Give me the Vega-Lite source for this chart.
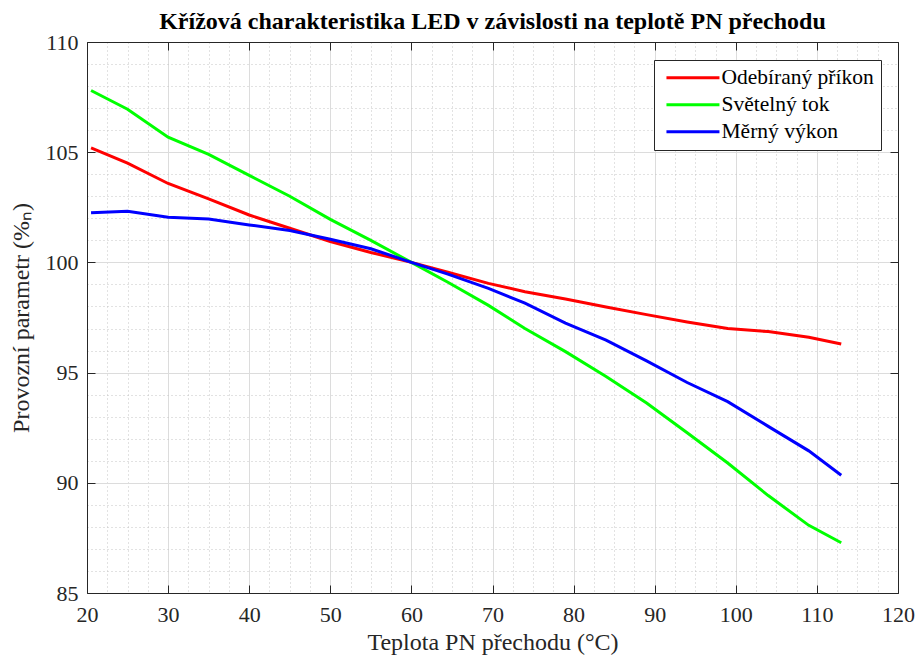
{
  "$schema": "https://vega.github.io/schema/vega-lite/v6.json",
  "width": 811,
  "height": 551,
  "autosize": {"type": "none"},
  "padding": {"left": 87, "top": 42, "right": 17, "bottom": 62},
  "background": "white",
  "config": {"font": "Liberation Serif", "view": {"stroke": null}},
  "title": {"text": "Křížová charakteristika LED v závislosti na teplotě PN přechodu", "font": "Liberation Serif", "fontSize": 24, "fontWeight": "bold", "color": "black", "anchor": "middle", "offset": -3},
  "data": {"values": [
    {"T": 20.5, "s": "Odebíraný příkon", "v": 105.2},
    {"T": 25, "s": "Odebíraný příkon", "v": 104.5},
    {"T": 30, "s": "Odebíraný příkon", "v": 103.58},
    {"T": 35, "s": "Odebíraný příkon", "v": 102.88},
    {"T": 40, "s": "Odebíraný příkon", "v": 102.15},
    {"T": 45, "s": "Odebíraný příkon", "v": 101.55},
    {"T": 50, "s": "Odebíraný příkon", "v": 100.95},
    {"T": 55, "s": "Odebíraný příkon", "v": 100.45},
    {"T": 60, "s": "Odebíraný příkon", "v": 100.0},
    {"T": 64.5, "s": "Odebíraný příkon", "v": 99.55},
    {"T": 69.5, "s": "Odebíraný příkon", "v": 99.05},
    {"T": 74, "s": "Odebíraný příkon", "v": 98.67},
    {"T": 79, "s": "Odebíraný příkon", "v": 98.34},
    {"T": 84, "s": "Odebíraný příkon", "v": 97.98},
    {"T": 89, "s": "Odebíraný příkon", "v": 97.63},
    {"T": 94, "s": "Odebíraný příkon", "v": 97.3},
    {"T": 99, "s": "Odebíraný příkon", "v": 97.0},
    {"T": 104, "s": "Odebíraný příkon", "v": 96.86},
    {"T": 109, "s": "Odebíraný příkon", "v": 96.6},
    {"T": 113, "s": "Odebíraný příkon", "v": 96.3},
    {"T": 20.5, "s": "Světelný tok", "v": 107.8},
    {"T": 25, "s": "Světelný tok", "v": 106.95},
    {"T": 30, "s": "Světelný tok", "v": 105.68},
    {"T": 35, "s": "Světelný tok", "v": 104.9},
    {"T": 40, "s": "Světelný tok", "v": 103.95},
    {"T": 45, "s": "Světelný tok", "v": 103.0},
    {"T": 50, "s": "Světelný tok", "v": 101.95},
    {"T": 55, "s": "Světelný tok", "v": 101.0},
    {"T": 60, "s": "Světelný tok", "v": 100.0},
    {"T": 64.5, "s": "Světelný tok", "v": 99.1},
    {"T": 69.5, "s": "Světelný tok", "v": 98.05},
    {"T": 74, "s": "Světelný tok", "v": 97.0},
    {"T": 79, "s": "Světelný tok", "v": 95.95},
    {"T": 84, "s": "Světelný tok", "v": 94.82},
    {"T": 89, "s": "Světelný tok", "v": 93.62},
    {"T": 94, "s": "Světelný tok", "v": 92.27},
    {"T": 99, "s": "Světelný tok", "v": 90.9},
    {"T": 104, "s": "Světelný tok", "v": 89.42},
    {"T": 109, "s": "Světelný tok", "v": 88.07},
    {"T": 113, "s": "Světelný tok", "v": 87.28},
    {"T": 20.5, "s": "Měrný výkon", "v": 102.25},
    {"T": 25, "s": "Měrný výkon", "v": 102.32},
    {"T": 30, "s": "Měrný výkon", "v": 102.05},
    {"T": 35, "s": "Měrný výkon", "v": 101.97},
    {"T": 40, "s": "Měrný výkon", "v": 101.7},
    {"T": 45, "s": "Měrný výkon", "v": 101.45},
    {"T": 50, "s": "Měrný výkon", "v": 101.05},
    {"T": 55, "s": "Měrný výkon", "v": 100.62},
    {"T": 60, "s": "Měrný výkon", "v": 100.0},
    {"T": 64.5, "s": "Měrný výkon", "v": 99.47},
    {"T": 69.5, "s": "Měrný výkon", "v": 98.82},
    {"T": 74, "s": "Měrný výkon", "v": 98.15},
    {"T": 79, "s": "Měrný výkon", "v": 97.25},
    {"T": 84, "s": "Měrný výkon", "v": 96.47},
    {"T": 89, "s": "Měrný výkon", "v": 95.53},
    {"T": 94, "s": "Měrný výkon", "v": 94.55},
    {"T": 99, "s": "Měrný výkon", "v": 93.68},
    {"T": 104, "s": "Měrný výkon", "v": 92.56},
    {"T": 109, "s": "Měrný výkon", "v": 91.45},
    {"T": 113, "s": "Měrný výkon", "v": 90.34}
  ]},
  "layer": [
    {
      "mark": {"type": "line", "strokeWidth": 3},
      "encoding": {
        "x": {
          "field": "T", "type": "quantitative",
          "scale": {"domain": [20, 120], "nice": false, "zero": false},
          "axis": {
            "orient": "bottom",
            "values": [20, 22.5, 25, 27.5, 30, 32.5, 35, 37.5, 40, 42.5, 45, 47.5, 50, 52.5, 55, 57.5, 60, 62.5, 65, 67.5, 70, 72.5, 75, 77.5, 80, 82.5, 85, 87.5, 90, 92.5, 95, 97.5, 100, 102.5, 105, 107.5, 110, 112.5, 115, 117.5, 120],
            "grid": true,
            "gridDash": {"condition": {"test": "datum.value % 10 === 0", "value": []}, "value": [1, 3]},
            "gridColor": {"condition": {"test": "datum.value % 10 === 0", "value": "#dcdcdc"}, "value": "#c4c4c4"},
            "gridOpacity": {"condition": {"test": "datum.value <= 20 || datum.value >= 120", "value": 0}, "value": 1},
            "tickSize": -8,
            "tickColor": "#262626",
            "tickOpacity": {"condition": {"test": "datum.value % 10 === 0", "value": 1}, "value": 0},
            "labelExpr": "datum.value % 10 === 0 ? datum.label : ''",
            "labelFont": "Liberation Serif", "labelFontSize": 22, "labelColor": "#262626",
            "labelPadding": 19, "labelOverlap": false, "labelFlush": false,
            "domainColor": "#262626", "domainWidth": 1,
            "title": "Teplota PN přechodu (°C)",
            "titleFont": "Liberation Serif", "titleFontSize": 24, "titleFontWeight": "normal", "titleColor": "#262626", "titlePadding": 5
          }
        },
        "y": {
          "field": "v", "type": "quantitative",
          "scale": {"domain": [85, 110], "nice": false, "zero": false},
          "axis": {
            "orient": "left",
            "values": [85, 86, 87, 88, 89, 90, 91, 92, 93, 94, 95, 96, 97, 98, 99, 100, 101, 102, 103, 104, 105, 106, 107, 108, 109, 110],
            "grid": true,
            "gridDash": {"condition": {"test": "datum.value % 5 === 0", "value": []}, "value": [1, 3]},
            "gridColor": {"condition": {"test": "datum.value % 5 === 0", "value": "#dcdcdc"}, "value": "#c4c4c4"},
            "gridOpacity": {"condition": {"test": "datum.value <= 85 || datum.value >= 110", "value": 0}, "value": 1},
            "tickSize": -8,
            "tickColor": "#262626",
            "tickOpacity": {"condition": {"test": "datum.value % 5 === 0", "value": 1}, "value": 0},
            "labelExpr": "datum.value % 5 === 0 ? datum.label : ''",
            "labelFont": "Liberation Serif", "labelFontSize": 22, "labelColor": "#262626",
            "labelPadding": 17, "labelOverlap": false, "labelFlush": false,
            "domainColor": "#262626", "domainWidth": 1,
            "title": "Provozní parametr (%ₙ)",
            "titleFont": "Liberation Serif", "titleFontSize": 24, "titleFontWeight": "normal", "titleColor": "#262626", "titlePadding": 12
          }
        },
        "color": {
          "field": "s", "type": "nominal",
          "scale": {"domain": ["Odebíraný příkon", "Světelný tok", "Měrný výkon"], "range": ["#ff0000", "#00ff00", "#0000ff"]},
          "legend": {
            "orient": "none", "legendX": 567, "legendY": 18, "title": null,
            "symbolType": "M-1,0H9", "symbolSize": 112.36, "symbolStrokeWidth": 3,
            "labelFont": "Liberation Serif", "labelFontSize": 21.5, "labelColor": "black", "labelOffset": 39, "labelLimit": 400,
            "padding": 7, "strokeColor": "#262626", "fillColor": "white", "rowPadding": 4, "cornerRadius": 0
          }
        }
      }
    },
    {
      "mark": {"type": "line", "opacity": 0},
      "encoding": {
        "x": {"field": "T", "type": "quantitative",
          "axis": {"orient": "top", "values": [20, 30, 40, 50, 60, 70, 80, 90, 100, 110, 120], "grid": false, "labels": false, "tickSize": -8, "tickColor": "#262626", "domainColor": "#262626", "title": null}},
        "y": {"field": "v", "type": "quantitative",
          "axis": {"orient": "right", "values": [85, 90, 95, 100, 105, 110], "grid": false, "labels": false, "tickSize": -8, "tickColor": "#262626", "domainColor": "#262626", "title": null}},
        "detail": {"field": "s"}
      }
    }
  ],
  "resolve": {"axis": {"x": "independent", "y": "independent"}}
}
